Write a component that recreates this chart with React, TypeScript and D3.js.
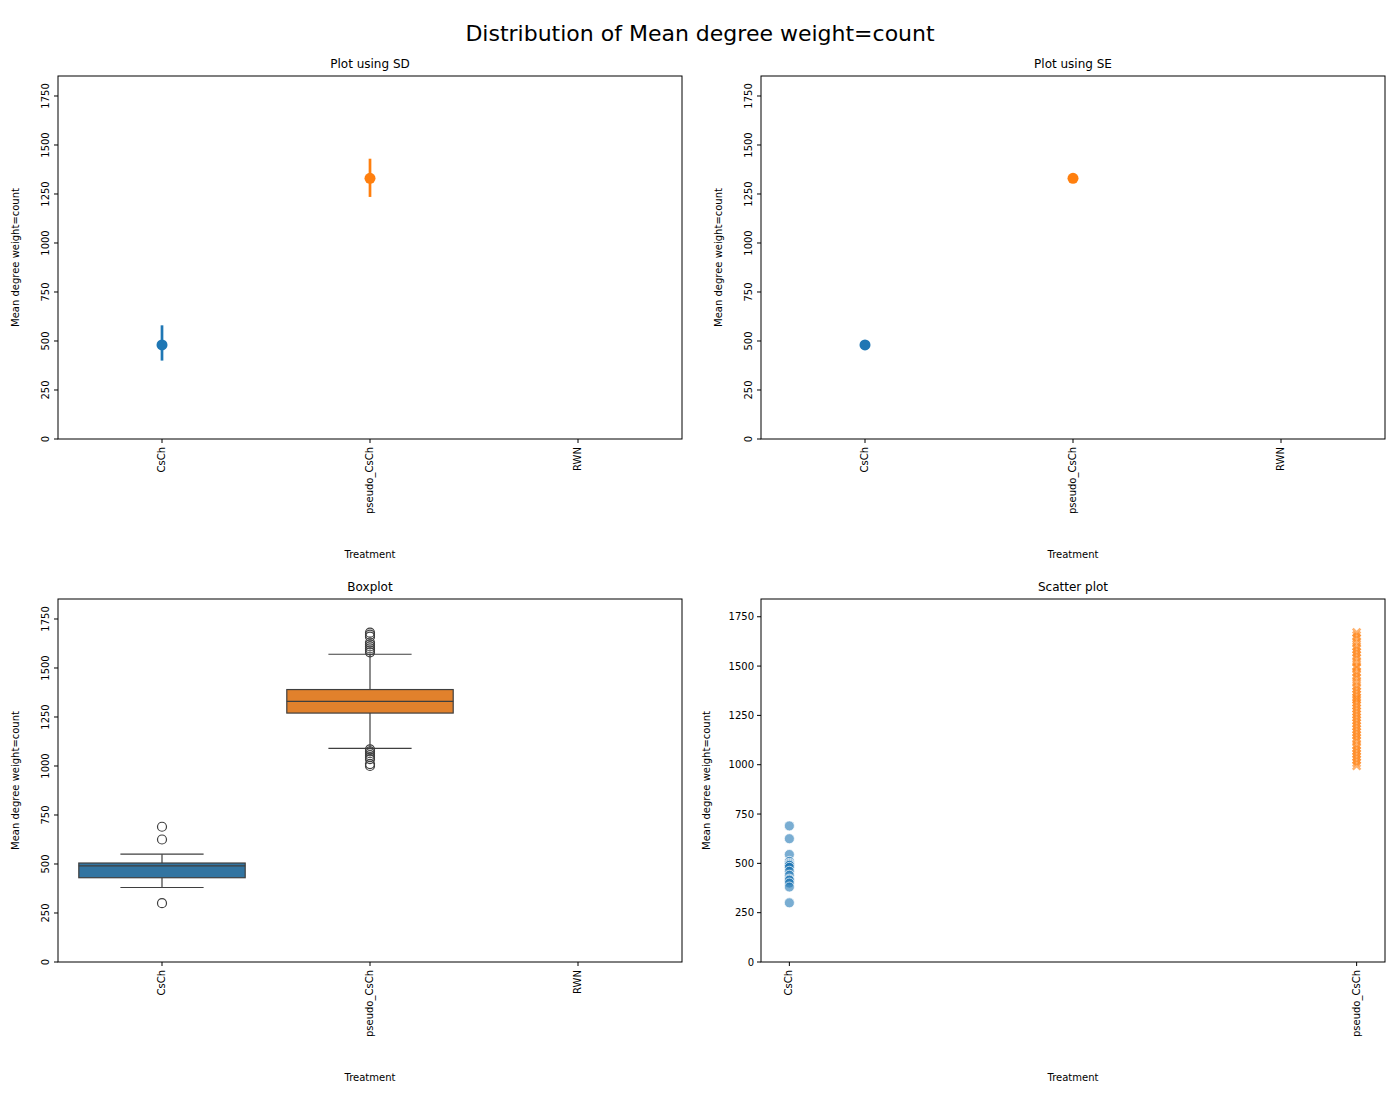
import React from "react";
import * as d3 from "d3";

const categories = ["CsCh", "pseudo_CsCh", "RWN"];
const means = [480, 1330];
const sdLow = [400, 1235];
const sdHigh = [580, 1430];
const seLow = [472, 1322];
const seHigh = [488, 1338];
const boxQ1 = [430, 1270];
const boxMed = [490, 1330];
const boxQ3 = [505, 1390];
const whiskLo = [380, 1090];
const whiskHi = [550, 1570];
const outCsCh = [690, 625, 300];
const outPseudo = [1580, 1590, 1600, 1610, 1620, 1630, 1660, 1670, 1680, 1085, 1075, 1065, 1055, 1045, 1035, 1010, 1000];
const scatCsCh = [690, 625, 545, 510, 500, 495, 490, 480, 460, 440, 420, 415, 400, 380, 300];
const scatPseudo = [1670, 1655, 1640, 1620, 1600, 1585, 1570, 1555, 1540, 1520, 1500, 1490, 1470, 1455, 1440, 1420, 1400, 1385, 1370, 1355, 1340, 1330, 1315, 1300, 1285, 1270, 1255, 1240, 1225, 1210, 1195, 1180, 1165, 1150, 1135, 1120, 1100, 1085, 1070, 1055, 1040, 1025, 1010, 995];
const yTicks = [0, 250, 500, 750, 1000, 1250, 1500, 1750];
const colors = ["#1f77b4", "#ff7f0e"];
const boxColors = ["#3274a1", "#e1812c"];
const FONT = "DejaVu Sans, sans-serif";

const W = 624, H = 363;

function Panel({ x0, y0, title, children, xs, rotYLabels = true, cats, yMax }: any) {
  const y = d3.scaleLinear().domain([0, yMax]).range([H, 0]);
  return (
    <g transform={`translate(${x0},${y0})`}>
      {children(y)}
      <rect x={0} y={0} width={W} height={H} fill="none" stroke="#000" strokeWidth={1} />
      <text x={W / 2} y={-8} textAnchor="middle" fontSize={12}>{title}</text>
      {yTicks.map((t) => (
        <g key={t} transform={`translate(0,${y(t)})`}>
          <line x1={-4} x2={0} stroke="#000" />
          {rotYLabels ? (
            <text transform="translate(-9,0) rotate(-90)" textAnchor="middle" fontSize={10} dy="0">{t}</text>
          ) : (
            <text x={-7} dy="0.35em" textAnchor="end" fontSize={10}>{t}</text>
          )}
        </g>
      ))}
      <text transform={`translate(${rotYLabels ? -39 : -51},${H / 2}) rotate(-90)`} textAnchor="middle" fontSize={10}>Mean degree weight=count</text>
      {cats.map((c: string, i: number) => (
        <g key={c} transform={`translate(${xs(i)},${H})`}>
          <line y1={0} y2={4} stroke="#000" />
          <text transform="translate(3,8) rotate(-90)" textAnchor="end" fontSize={10}>{c}</text>
        </g>
      ))}
      <text x={W / 2} y={H + 119} textAnchor="middle" fontSize={10}>Treatment</text>
    </g>
  );
}

export default function App() {
  const xb = d3.scaleBand().domain(["0", "1", "2"]).range([0, W]);
  const xs = (i: number) => (xb(String(i)) as number) + xb.bandwidth() / 2;
  const xsc = d3.scaleLinear().domain([-0.05, 1.05]).range([0, W]);
  const bw = xb.bandwidth() * 0.8;
  const pts = (lo: number[], hi: number[]) => (y: any) => (
    <g>
      {means.map((m, i) => (
        <g key={i}>
          <line x1={xs(i)} x2={xs(i)} y1={y(lo[i])} y2={y(hi[i])} stroke={colors[i]} strokeWidth={2.7} />
          <circle cx={xs(i)} cy={y(m)} r={5.5} fill={colors[i]} />
        </g>
      ))}
    </g>
  );
  return (
    <svg width={1400} height={1100} style={{ display: "block", margin: -8, fontFamily: FONT }} fontFamily={FONT}>
      <rect width={1400} height={1100} fill="#fff" />
      <text x={700} y={41} textAnchor="middle" fontSize={22}>Distribution of Mean degree weight=count</text>
      <Panel x0={58} y0={76} title="Plot using SD" xs={xs} cats={categories} yMax={1852}>{pts(sdLow, sdHigh)}</Panel>
      <Panel x0={761} y0={76} title="Plot using SE" xs={xs} cats={categories} yMax={1852}>{pts(seLow, seHigh)}</Panel>
      <Panel x0={58} y0={599} title="Boxplot" xs={xs} cats={categories} yMax={1852}>
        {(y: any) => (
          <g>
            {boxQ1.map((q1, i) => {
              const cx = xs(i);
              const outs = i === 0 ? outCsCh : outPseudo;
              return (
                <g key={i} stroke="#3f3f3f" strokeWidth={1.2}>
                  <line x1={cx} x2={cx} y1={y(whiskLo[i])} y2={y(q1)} />
                  <line x1={cx} x2={cx} y1={y(boxQ3[i])} y2={y(whiskHi[i])} />
                  <line x1={cx - bw / 4} x2={cx + bw / 4} y1={y(whiskLo[i])} y2={y(whiskLo[i])} />
                  <line x1={cx - bw / 4} x2={cx + bw / 4} y1={y(whiskHi[i])} y2={y(whiskHi[i])} />
                  <rect x={cx - bw / 2} width={bw} y={y(boxQ3[i])} height={y(q1) - y(boxQ3[i])} fill={boxColors[i]} />
                  <line x1={cx - bw / 2} x2={cx + bw / 2} y1={y(boxMed[i])} y2={y(boxMed[i])} />
                  {outs.map((o, j) => <circle key={j} cx={cx} cy={y(o)} r={4.5} fill="none" />)}
                </g>
              );
            })}
          </g>
        )}
      </Panel>
      <Panel x0={761} y0={599} title="Scatter plot" xs={(i: number) => xsc(i)} cats={["CsCh", "pseudo_CsCh"]} rotYLabels={false} yMax={1840}>
        {(y: any) => (
          <g>
            {scatCsCh.map((v, j) => (
              <circle key={j} cx={xsc(0)} cy={y(v)} r={5} fill={colors[0]} fillOpacity={0.6} stroke="#fff" strokeWidth={0.7} />
            ))}
            {scatPseudo.map((v, j) => (
              <path key={j} transform={`translate(${xsc(1)},${y(v)})`} d={d3.symbol(d3.symbolX, 40)() as string} stroke={colors[1]} strokeOpacity={0.6} strokeWidth={2.5} fill="none" />
            ))}
          </g>
        )}
      </Panel>
    </svg>
  );
}
